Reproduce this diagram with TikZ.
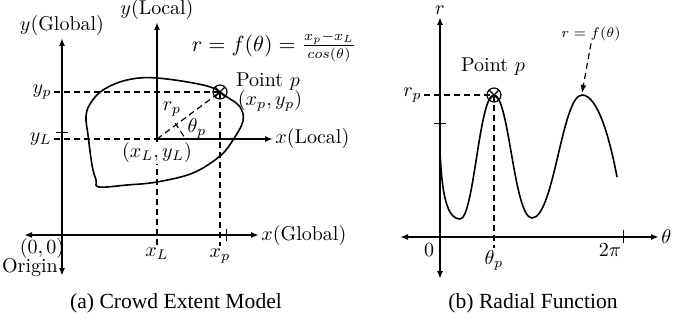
\documentclass[tikz,border=0pt]{standalone}
\usepackage{fontspec}
\newfontfamily\capfont{Liberation Serif}
\usetikzlibrary{arrows.meta}
\begin{document}
\begin{tikzpicture}[x=0.5pt,y=-0.5pt,
  axis/.style={line width=1pt,-{Latex[length=4pt,width=3pt]}},
  daxis/.style={line width=1pt,{Latex[length=4pt,width=3pt]}-{Latex[length=4pt,width=3pt]}},
  dline/.style={line width=0.6pt,dash pattern=on 3pt off 2pt},
  curve/.style={line width=0.8pt},
  lab/.style={inner sep=1pt},
  capt/.style={font=\capfont\fontsize{10.8}{12}\selectfont}]
\useasboundingbox (0,0) rectangle (673,320);

% ---------- (a) ----------
\coordinate (gO) at (62,235);
\coordinate (gYtop) at (62,38);
\coordinate (gYbot) at (62,276);
\coordinate (gXl) at (24,235);
\coordinate (gXr) at (259,235);
\coordinate (lO) at (157,139);
\coordinate (lYtop) at (157,22);
\coordinate (lXr) at (273,139);
\coordinate (P) at (220,92);

\draw[daxis] (gYbot) -- (gYtop);
\draw[daxis] (gXl) -- (gXr);
\node[lab,anchor=south] (gylab) at (gYtop) {$y(\mathrm{Global})$};
\node[lab,anchor=west] (gxlab) at (gXr) {$x(\mathrm{Global})$};
\draw[axis] (lO) -- (lYtop);
\draw[axis] (lO) -- (lXr);
\node[lab,anchor=south] (lylab) at (lYtop) {$y(\mathrm{Local})$};
\node[lab,anchor=west] (lxlab) at (lXr) {$x(\mathrm{Local})$};

% ticks
\coordinate (tk1) at (226,229); \coordinate (tk2) at (226,241);
\draw[line width=0.5pt] (tk1) -- (tk2);
\coordinate (tk3) at (56,133); \coordinate (tk4) at (68,133);
\draw[line width=0.5pt] (tk3) -- (tk4);

% blob
\draw[curve] plot[smooth cycle,tension=0.6] coordinates {
 (157,78) (207,86) (227,97) (240,107) (243,121) (233,140) (220,156)
 (193,173) (157,182) (127,185) (99,187) (96,180) (92,165) (88,135) (86,117)
 (90,104) (103,90) (127,80)};

% labels
\node[lab] (orig0) at (42,248) {$(0,0)$};
\node[lab] (origin) at (30,268) {Origin};
\node[lab,anchor=north] (xL) at (157,245) {$x_L$};
\node[lab,anchor=north] (xp) at (220,246) {$x_p$};
\node[lab,anchor=east] (yp) at (54,92) {$y_p$};
\node[lab,anchor=east] (yL) at (54,139) {$y_L$};
\node[lab] (ptp) at (268,82) {Point $p$};
\node[lab] (xyp) at (270,101) {$(x_p,y_p)$};
\node[lab,font=\fontsize{10.7}{13}\selectfont] (form) at (274,47) {$r=f(\theta)=\frac{x_p-x_L}{cos(\theta)}$};
\node[lab] (rp) at (172,109) {$r_p$};
\node[lab] (thp) at (197,128) {$\theta_p$};

% dashed
\draw[dline] (yp.east) -- (P);
\draw[dline] (yL.east) -- (lO);
\draw[dline] (lO) -- (xL.north);
\draw[dline] (P) -- (xp.north);
\draw[dline] (lO) -- (P);
\coordinate (th1) at (175,123); \coordinate (th2) at (185,138);
\draw[dline] (th1) -- (th2);
\node[lab,fill=white,inner sep=0.5pt] (xyL) at (157,153) {$(x_L,y_L)$};

% point marker
\draw[line width=0.6pt] (P) circle[radius=7];
\draw[line width=0.6pt] (P) ++(-5,-5) -- ++(10,10) ++(-10,0) -- ++(10,-10);

% ---------- (b) ----------
\coordinate (rTop) at (440,17);
\coordinate (rBot) at (440,279);
\coordinate (tL) at (400,237);
\coordinate (tR) at (659,237);
\coordinate (Q) at (494,95);
\draw[daxis] (rBot) -- (rTop);
\draw[daxis] (tL) -- (tR);
\node[lab,anchor=south] (rlab) at (rTop) {$r$};
\node[lab,anchor=west] (tlab) at (tR) {$\theta$};
\draw[line width=0.5pt] (623,230) -- (623,243);
\draw[line width=0.5pt] (434,124) -- (446,124);
\node[lab] (zero) at (429,250) {$0$};
\node[lab] (twopi) at (610,250) {$2\pi$};
\node[lab,anchor=north] (thp2) at (494,248) {$\theta_p$};
\node[lab,anchor=east] (rp2) at (424,95) {$r_p$};
\node[lab] (ptp2) at (493,67) {Point $p$};
\node[lab,font=\fontsize{7.5}{9}\selectfont] (rf) at (591,34) {$r=f(\theta)$};
\coordinate (pk2) at (582,93);

\draw[curve] (440,150) .. controls (442,205) and (450,219) .. (460,219)
  .. controls (474,219) and (479,95) .. (494,95)
  .. controls (509,95) and (514,218) .. (532,218)
  .. controls (554,218) and (562,95) .. (582,95)
  .. controls (598,95) and (610,140) .. (617,177);

\draw[dline] (rp2.east) -- (Q);
\draw[dline] (Q) -- (thp2.north);
\draw[dline,-{Latex[length=4pt,width=3pt]}] (rf.south) -- (pk2);
\draw[line width=0.6pt] (Q) circle[radius=7];
\draw[line width=0.6pt] (Q) ++(-5,-5) -- ++(10,10) ++(-10,0) -- ++(10,-10);

% captions
\node[capt] (capa) at (176,303) {(a) Crowd Extent Model};
\node[capt] (capb) at (533,303) {(b) Radial Function};
\end{tikzpicture}
\end{document}
